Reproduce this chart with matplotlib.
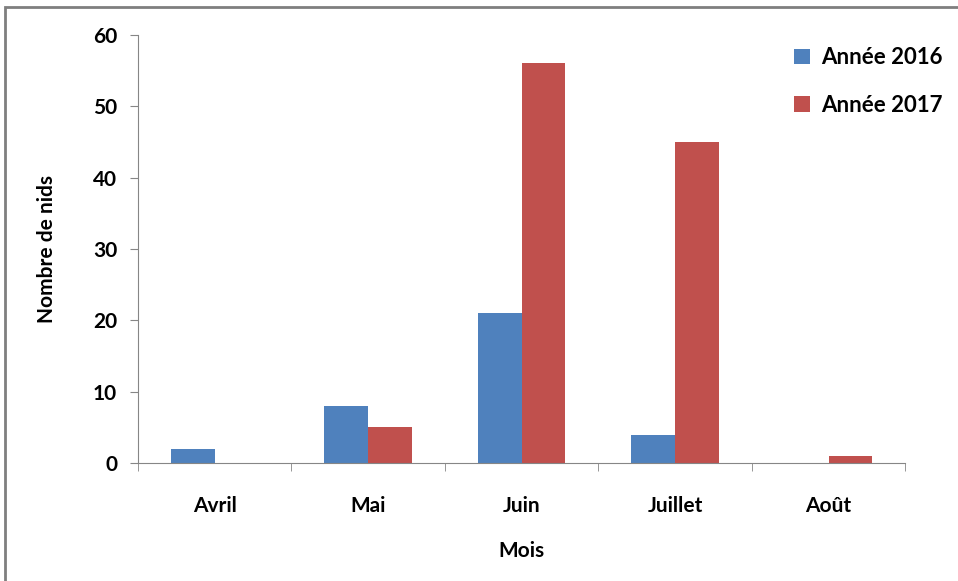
import numpy as np
import matplotlib
matplotlib.use("Agg")
import matplotlib.pyplot as plt
from matplotlib.patches import Rectangle

mois = ["Avril", "Mai", "Juin", "Juillet", "Août"]
nids_2016 = [2, 8, 21, 4, 0]
nids_2017 = [0, 5, 56, 45, 1]

plt.rcParams["font.family"] = ["Lato", "DejaVu Sans"]
plt.rcParams["font.weight"] = "bold"

fig = plt.figure(figsize=(9.58, 5.81), dpi=100)
ax = fig.add_axes([0.144, 0.203, 0.801, 0.737])

x = np.arange(len(mois))
w = 1 / 3.5
ax.bar(x - w / 2, nids_2016, width=w, color="#4F81BD", label="Année 2016")
ax.bar(x + w / 2, nids_2017, width=w, color="#C0504D", label="Année 2017")

ax.set_xlim(-0.5, len(mois) - 0.5)
ax.set_ylim(0, 60)
ax.set_yticks(range(0, 61, 10))
ax.set_xticks(x)
ax.set_xticklabels(mois, fontsize=15, fontweight="bold")
ax.set_xticks(np.arange(-0.5, len(mois), 1), minor=True)
ax.tick_params(axis="x", which="major", length=0, pad=24)
ax.tick_params(axis="x", which="minor", length=6, color="#868686", direction="out")
ax.tick_params(axis="y", length=6, color="#868686", labelsize=15, pad=9)
for lab in ax.get_yticklabels():
    lab.set_fontweight("bold")

for s in ["top", "right"]:
    ax.spines[s].set_visible(False)
for s in ["left", "bottom"]:
    ax.spines[s].set_color("#868686")

ax.set_xlabel("Mois", fontsize=15, fontweight="bold", labelpad=18)
ax.set_ylabel("Nombre de nids", fontsize=15, fontweight="bold", labelpad=26)

fig.legend(loc="upper left", bbox_to_anchor=(0.808, 0.953), frameon=False,
           handlelength=0.7, handleheight=0.7, handletextpad=0.5,
           labelspacing=1.2, prop={"weight": "bold", "size": 16})

fig.patches.append(Rectangle((0.005, -0.1), 1.2, 1.088, transform=fig.transFigure,
                             fill=False, edgecolor="#7f7f7f", linewidth=2))

fig.savefig("out.png", dpi=100)
